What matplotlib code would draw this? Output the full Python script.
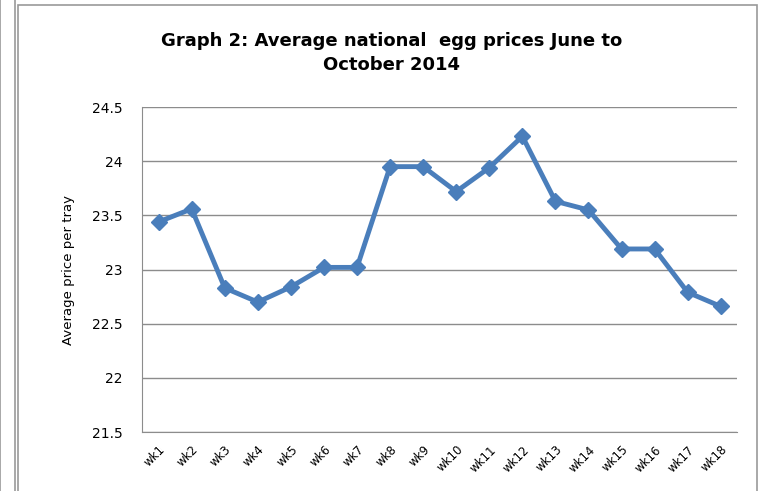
import matplotlib.pyplot as plt
from matplotlib.patches import Rectangle

weeks = ["wk%d" % i for i in range(1, 19)]
prices = [23.44, 23.56, 22.83, 22.70, 22.84, 23.02, 23.02, 23.95, 23.95,
          23.72, 23.94, 24.23, 23.63, 23.55, 23.19, 23.19, 22.79, 22.66]
y_ticks = [21.5, 22, 22.5, 23, 23.5, 24, 24.5]

fig = plt.figure(figsize=(7.68, 4.91), dpi=100)
ax = fig.add_axes([0.185, 0.12, 0.775, 0.662])

# outer frames like the pasted Excel chart
fig.patches.append(Rectangle((0.0, -0.01), 0.02, 1.2, transform=fig.transFigure,
                             fill=False, edgecolor="#999999", linewidth=1.2))
fig.patches.append(Rectangle((0.024, -0.01), 0.962, 1.0, transform=fig.transFigure,
                             fill=False, edgecolor="#999999", linewidth=1.2))

x = range(len(weeks))
ax.plot(x, prices, color="#4a7ebb", linewidth=3.5, marker="D", markersize=8,
        markeredgecolor="#4a7ebb")

ax.set_xlim(-0.5, len(weeks) - 0.5)
ax.set_ylim(21.5, 24.5)
ax.set_yticks(y_ticks)
ax.set_yticklabels([("%g" % v) for v in y_ticks], fontsize=10)
ax.set_xticks(list(x))
ax.set_xticklabels(weeks, rotation=45, ha="right", rotation_mode="anchor", fontsize=8.5)
ax.tick_params(length=0, pad=8)
ax.tick_params(axis="y", pad=14)
ax.grid(axis="y", color="#8c8c8c", linewidth=1)
ax.set_axisbelow(True)
for s in ["top", "right"]:
    ax.spines[s].set_visible(False)
ax.spines["left"].set_color("#8c8c8c")
ax.spines["bottom"].set_color("#8c8c8c")

ax.set_ylabel("Average price per tray", fontsize=9.5, labelpad=12)
fig.text(0.51, 0.892, "Graph 2: Average national  egg prices June to\nOctober 2014",
         ha="center", va="center", fontsize=13, fontweight="bold", linespacing=1.45)

plt.savefig("out.png")
plt.close()
